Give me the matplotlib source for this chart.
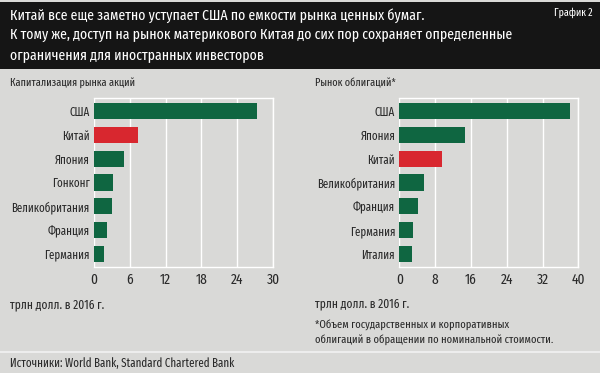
import numpy as np
import matplotlib
matplotlib.use('Agg')
import matplotlib.pyplot as plt

matplotlib.rc('font', family=['Fira Sans Extra Condensed', 'PT Sans Narrow', 'Roboto Condensed', 'DejaVu Sans'],
              stretch='condensed', size=8)

# data (трлн долл., 2016)
stock_countries = ['США', 'Китай', 'Япония', 'Гонконг', 'Великобритания', 'Франция', 'Германия']
stock_values = [27.3, 7.3, 5.0, 3.2, 3.1, 2.2, 1.7]
stock_ticks = [0, 6, 12, 18, 24, 30]

bond_countries = ['США', 'Япония', 'Китай', 'Великобритания', 'Франция', 'Германия', 'Италия']
bond_values = [38.1, 14.6, 9.6, 5.6, 4.2, 3.0, 2.8]
bond_ticks = [0, 8, 16, 24, 32, 40]

title_lines = ['Китай все еще заметно уступает США по емкости рынка ценных бумаг.',
               'К тому же, доступ на рынок материкового Китая до сих пор сохраняет определенные',
               'ограничения для иностранных инвесторов']

BG = '#d9d9d7'
GREEN = '#0f6641'
RED = '#d8272f'
TXT = '#2a2a2a'

fig = plt.figure(figsize=(6.0, 3.73), dpi=100, facecolor=BG)

# title band
fig.patches.append(plt.Rectangle((0, 1 - 69/373), 1, 67/373, transform=fig.transFigure,
                                 facecolor='#151515', edgecolor='none', zorder=0))
for i, line in enumerate(title_lines):
    fig.text(10/600, 1 - (15.5 + i*19.7)/373, line, color='white', fontsize=10.8, va='center')
fig.text(573/600, 1 - 13/373, 'График 2', color='white', fontsize=7.8, va='center', ha='center')

# footer separator
fig.add_artist(plt.Line2D([0, 1], [1 - 352/373]*2, color='#f2f2f2', lw=1.2))
fig.text(10/600, 1 - 363/373, 'Источники: World Bank, Standard Chartered Bank',
         color=TXT, fontsize=8.6, va='center')


def draw_panel(left, names, values, ticks, subtitle, sub_x, highlight='Китай'):
    ax = fig.add_axes([left/600, 1 - 267/373, 179/600, 169/373])
    ax.set_facecolor(BG)
    y = np.arange(len(names))
    colors = [RED if n == highlight else GREEN for n in names]
    ax.barh(y, values, height=0.68, color=colors, zorder=3)
    ax.set_ylim(len(names) - 0.45, -0.55)
    ax.set_xlim(ticks[0], ticks[-1])
    ax.set_xticks(ticks)
    ax.set_yticks(y)
    ax.set_yticklabels(names)
    ax.tick_params(length=0, labelcolor=TXT)
    ax.tick_params(axis='x', pad=4, labelsize=10.5)
    ax.tick_params(axis='y', pad=3, labelsize=8.6)
    ax.grid(axis='x', color='white', lw=1, zorder=1)
    for s in ax.spines.values():
        s.set_color('white')
        s.set_linewidth(1)
    ax.spines['left'].set_visible(False)
    fig.text(sub_x/600, 1 - 83/373, subtitle, color=TXT, fontsize=8, va='center')
    return ax


draw_panel(94, stock_countries, stock_values, stock_ticks, 'Капитализация рынка акций', 10)
draw_panel(399.3, bond_countries, bond_values, bond_ticks, 'Рынок облигаций*', 315)

fig.text(10/600, 1 - 305/373, 'трлн долл. в 2016 г.', color=TXT, fontsize=9, va='center')
fig.text(315/600, 1 - 304/373, 'трлн долл. в 2016 г.', color=TXT, fontsize=9, va='center')
fig.text(315/600, 1 - 325/373, '*Объем государственных и корпоративных', color=TXT, fontsize=8.2, va='center')
fig.text(315/600, 1 - 340/373, 'облигаций в обращении по номинальной стоимости.', color=TXT, fontsize=8.2, va='center')

fig.savefig('out.png', dpi=100, facecolor=BG)
